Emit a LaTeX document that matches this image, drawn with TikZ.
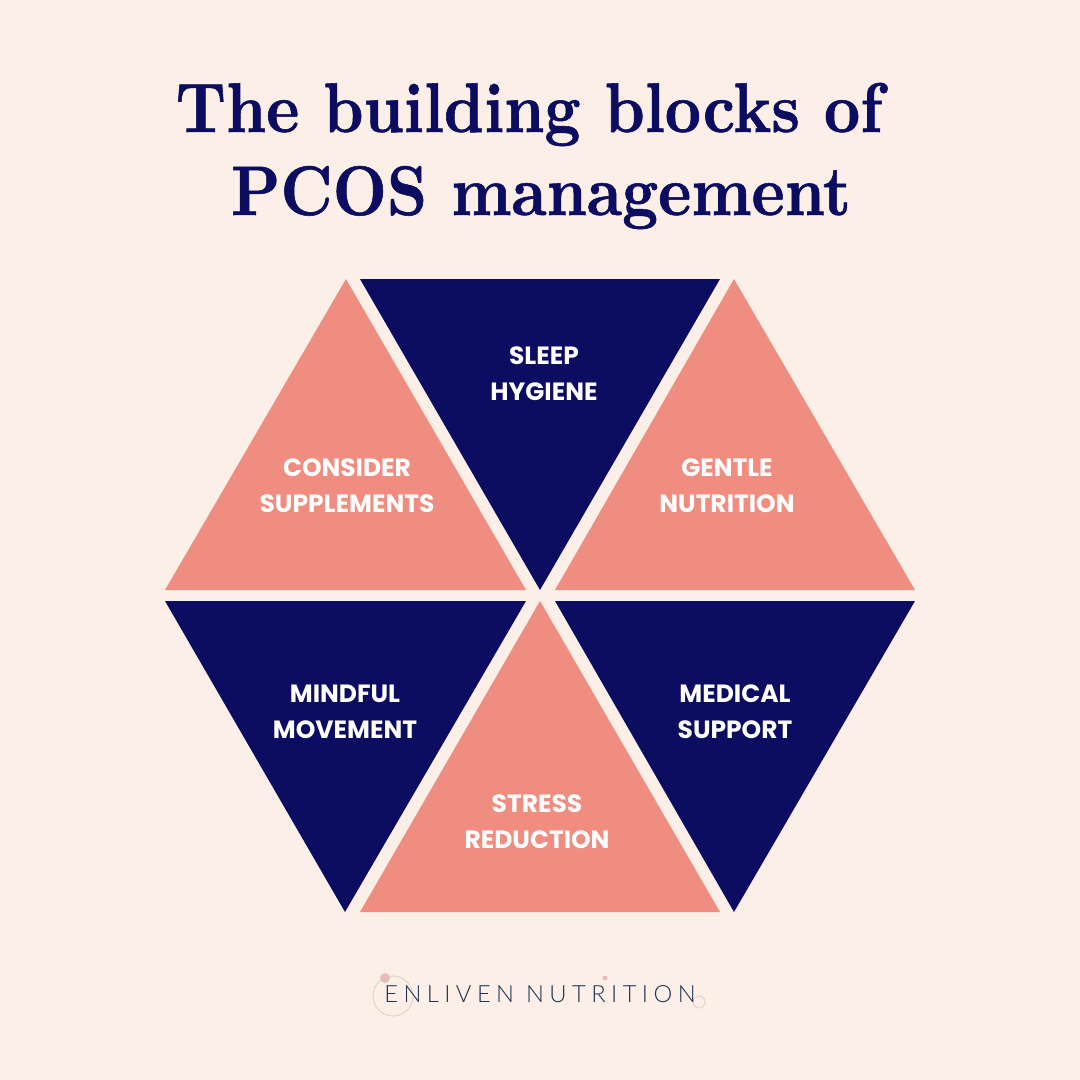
\documentclass[tikz,border=0pt]{standalone}
\usepackage{fontspec}
\setmainfont{Latin Modern Roman}
\newfontfamily\titlefont[Extension=.otf,FakeStretch=0.895,FakeBold=0.8]{lmroman10-bold}
\newfontfamily\labelfont{Poppins}
\newfontfamily\logofont[LetterSpace=23]{Lato Light}
\definecolor{bgcream}{HTML}{FCEFE7}
\definecolor{navy}{HTML}{0C0C60}
\definecolor{salmon}{HTML}{EF8D80}
\definecolor{logoink}{HTML}{1F3350}
\definecolor{logopink}{HTML}{E5BDBB}
\definecolor{logoline}{HTML}{D8CDB8}
\tikzset{
    blocklabel/.style={text=white, align=center, font=\labelfont\bfseries\fontsize{14.2}{20.4}\selectfont, inner sep=0pt},
    titleline/.style={text=navy, anchor=base, font=\titlefont\fontsize{40}{50}\selectfont, inner sep=0pt},
}
\begin{document}
\begin{tikzpicture}[x=0.02cm,y=-0.02cm]
    \fill[bgcream] (0,0) rectangle (1080,1080);
    \useasboundingbox (0,0) rectangle (1080,1080);
    \node[titleline] (titletop) at (529,132) {The building blocks of};
    \node[titleline] (titlebottom) at (541,215) {PCOS management};
    \fill[salmon] (346,279) -- (165,590) -- (526,590) -- cycle;
    \fill[navy] (360,279) -- (720,279) -- (540,590) -- cycle;
    \fill[salmon] (734,279) -- (555,590) -- (915,590) -- cycle;
    \fill[navy] (165,601) -- (526,601) -- (345,912) -- cycle;
    \fill[salmon] (540,601) -- (720,912) -- (360,912) -- cycle;
    \fill[navy] (555,601) -- (915,601) -- (734,912) -- cycle;
    \node[blocklabel] (sleep) at (544,374) {SLEEP\\HYGIENE};
    \node[blocklabel] (supplements) at (347,486) {CONSIDER\\SUPPLEMENTS};
    \node[blocklabel] (nutrition) at (727,486) {GENTLE\\NUTRITION};
    \node[blocklabel] (movement) at (345,712) {MINDFUL\\MOVEMENT};
    \node[blocklabel] (medical) at (735,712) {MEDICAL\\SUPPORT};
    \node[blocklabel] (stress) at (537,822) {STRESS\\REDUCTION};
    % logo
    \draw[logoline, line width=0.4pt] (393,996) circle (20);
    \draw[logoline, line width=0.4pt] (699,1002) circle (6);
    \fill[logopink] (385,978) circle (5);
    \fill[logopink] (605,978) circle (2.5);
    \node[text=logoink, font=\logofont\fontsize{13.5}{16}\selectfont, inner sep=0pt] (logo) at (540,994) {ENLIVEN NUTRITION};
\end{tikzpicture}
\end{document}
